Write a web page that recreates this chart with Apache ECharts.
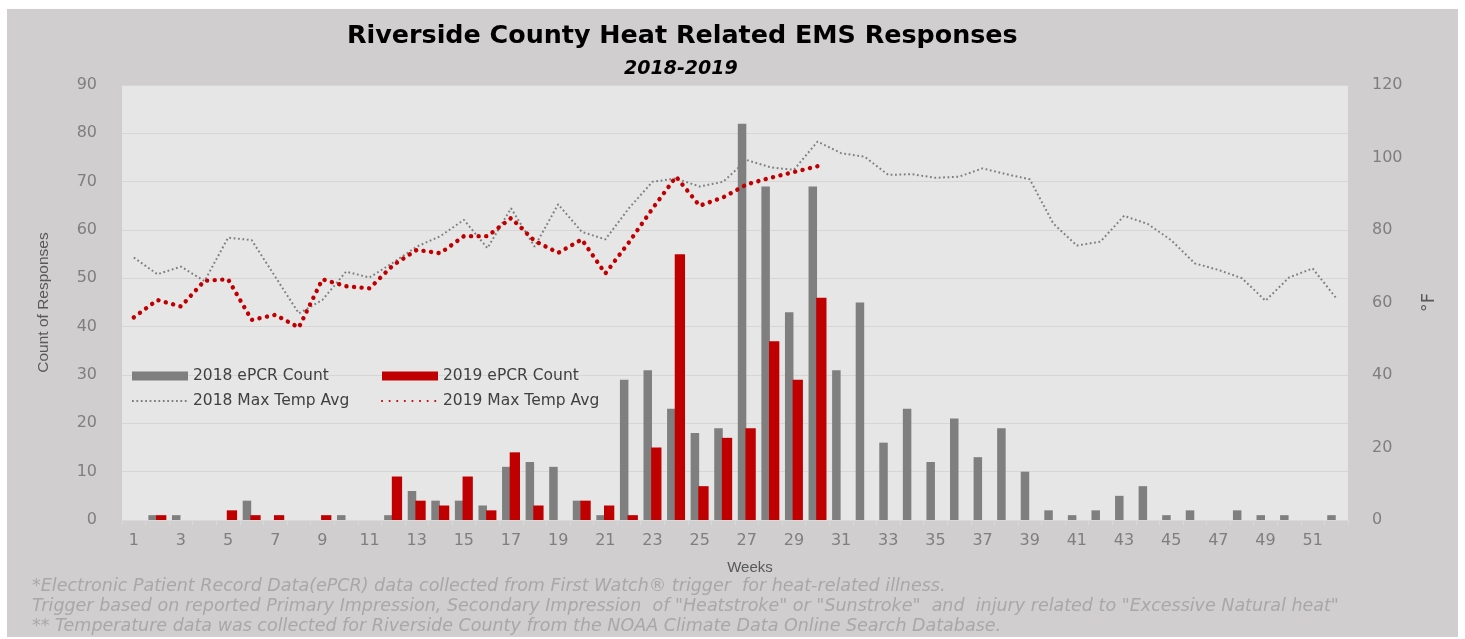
<!DOCTYPE html>
<html>
<head>
<meta charset="utf-8">
<script src="https://cdn.jsdelivr.net/npm/echarts@6/dist/echarts.min.js"></script>
<style>
  html, body { margin: 0; padding: 0; background: #ffffff; }
  #panel { position: absolute; left: 7px; top: 9px; width: 1451px; height: 628px; background: #d0cece; }
  #chart { position: absolute; left: 0; top: 0; width: 1465px; height: 639px; }
</style>
</head>
<body>
<div id="panel"></div>
<div id="chart"></div>
<script>
const weeks = ['1','2','3','4','5','6','7','8','9','10','11','12','13','14','15','16','17','18','19','20',
  '21','22','23','24','25','26','27','28','29','30','31','32','33','34','35','36','37','38','39','40',
  '41','42','43','44','45','46','47','48','49','50','51','52'];

const count2018 = [0,1,1,0,0,4,0,0,0,1, 0,1,6,4,4,3,11,12,11,4, 1,29,31,23,18,19,82,69,43,69,
  31,45,16,23,12,21,13,19,10,2, 1,2,5,7,1,2,0,2,1,1, 0,1];

const count2019 = [0,1,0,0,2,1,1,0,1,0, 0,9,4,3,9,2,14,3,0,4, 3,1,15,55,7,17,19,37,29,46];

const temp2018 = [72.4,67.8,69.9,65.9,77.9,77.2,67.1,57.0,60.7,68.5,
  66.9,71.0,75.4,78.3,82.8,75.0,86.0,75.4,87.1,79.5,
  77.4,86.0,93.3,94.2,92.0,93.3,99.3,97.3,96.6,104.4,
  101.2,100.2,95.2,95.4,94.4,94.7,97.0,95.4,94.0,81.8,
  75.7,76.8,83.9,81.7,77.2,70.8,69.0,66.7,60.5,66.9,
  69.4,61.2];

const temp2019 = [55.9,60.7,58.9,66.0,66.4,55.2,56.6,53.1,66.4,64.5,
  63.9,70.3,74.5,73.6,78.3,78.3,83.3,77.0,73.7,77.4,
  68.0,76.6,85.9,94.7,86.7,89.0,92.6,94.4,96.0,97.6];

const seriesNames = ['2018 ePCR Count','2019 ePCR Count','2018 Max Temp Avg','2019 Max Temp Avg'];

const footnotes = [
  '*Electronic Patient Record Data(ePCR) data collected from First Watch\u00ae trigger  for heat-related illness.',
  'Trigger based on reported Primary Impression, Secondary Impression  of "Heatstroke" or "Sunstroke"  and  injury related to "Excessive Natural heat"',
  '** Temperature data was collected for Riverside County from the NOAA Climate Data Online Search Database.'
];

const chart = echarts.init(document.getElementById('chart'));
const footStyle = { fontFamily: 'DejaVu Sans', fontStyle: 'italic', fontWeight: 'normal', fontSize: 17.5, color: '#a8a8a8' };
const legendText = { fontFamily: 'DejaVu Sans', fontSize: 15.5, color: '#404040' };
const hideSym = { opacity: 0 };

chart.setOption({
  animation: false,
  backgroundColor: 'transparent',
  title: [
    { text: 'Riverside County Heat Related EMS Responses', left: 347, top: 24, padding: 0,
      textStyle: { fontFamily: 'DejaVu Sans', fontWeight: 'bold', fontSize: 25.4, color: '#000000' } },
    { text: '2018-2019', left: 624, top: 60, padding: 0,
      textStyle: { fontFamily: 'DejaVu Sans', fontWeight: 'bold', fontStyle: 'italic', fontSize: 19, color: '#000000' } },
    { text: footnotes[0], left: 32, top: 577, padding: 0, textStyle: footStyle },
    { text: footnotes[1], left: 32, top: 597, padding: 0, textStyle: footStyle },
    { text: footnotes[2], left: 32, top: 617, padding: 0, textStyle: footStyle }
  ],
  legend: [
    { data: [{ name: seriesNames[0], icon: 'rect' }, { name: seriesNames[2], itemStyle: hideSym }],
      orient: 'vertical', left: 131, top: 368, itemWidth: 56, itemHeight: 9,
      itemGap: 9, textStyle: legendText, padding: 0 },
    { data: [{ name: seriesNames[1], icon: 'rect' }, { name: seriesNames[3], itemStyle: hideSym }],
      orient: 'vertical', left: 381, top: 368, itemWidth: 56, itemHeight: 9,
      itemGap: 9, textStyle: legendText, padding: 0 }
  ],
  grid: { left: 122, right: 117, top: 85, bottom: 119, show: true, backgroundColor: '#e7e6e6', borderWidth: 0, containLabel: false },
  xAxis: {
    type: 'category', data: weeks, boundaryGap: true,
    name: 'Weeks', nameLocation: 'middle', nameGap: 40,
    nameTextStyle: { fontFamily: 'Liberation Sans', fontSize: 15, color: '#595959', padding: [0, 0, 0, 30] },
    axisLine: { lineStyle: { color: '#d9d9d9', width: 1 } },
    axisTick: { show: true, length: 5, interval: 0, lineStyle: { color: '#d9d9d9' } },
    axisLabel: { interval: 1, margin: 13, fontFamily: 'DejaVu Sans', fontSize: 16, color: '#7f7f7f' }
  },
  yAxis: [
    { type: 'value', min: 0, max: 90, interval: 10,
      name: 'Count of Responses', nameLocation: 'middle', nameGap: 70, nameRotate: 90,
      nameTextStyle: { fontFamily: 'Liberation Sans', fontSize: 15.5, color: '#595959' },
      axisLine: { show: false }, axisTick: { show: false },
      axisLabel: { margin: 25, fontFamily: 'DejaVu Sans', fontSize: 16, color: '#7f7f7f' },
      splitLine: { lineStyle: { color: '#d6d6d6', width: 1.2 } } },
    { type: 'value', min: 0, max: 120, interval: 20,
      name: '\u00b0F', nameLocation: 'middle', nameGap: 72, nameRotate: 90,
      nameTextStyle: { fontFamily: 'DejaVu Sans', fontSize: 18, color: '#595959' },
      axisLine: { show: false }, axisTick: { show: false },
      axisLabel: { margin: 24, fontFamily: 'DejaVu Sans', fontSize: 16, color: '#7f7f7f' },
      splitLine: { show: false } }
  ],
  series: [
    { name: seriesNames[0], type: 'bar', data: count2018, barWidth: 8.5, barGap: '-10%',
      itemStyle: { color: '#7f7f7f' }, z: 2 },
    { name: seriesNames[1], type: 'bar', data: count2019, barWidth: 10.3,
      itemStyle: { color: '#c00000' }, z: 3 },
    { name: seriesNames[2], type: 'line', yAxisIndex: 1, data: temp2018, symbol: 'none',
      lineStyle: { color: '#7f7f7f', width: 2, type: [1.8, 2.6] }, itemStyle: { color: '#7f7f7f' }, z: 4 },
    { name: seriesNames[3], type: 'line', yAxisIndex: 1, data: temp2019, symbol: 'none',
      lineStyle: { color: '#c00000', width: 4.4, type: [0.1, 7.5], cap: 'round' }, itemStyle: { color: '#c00000' }, z: 5 }
  ]
});
</script>
</body>
</html>
